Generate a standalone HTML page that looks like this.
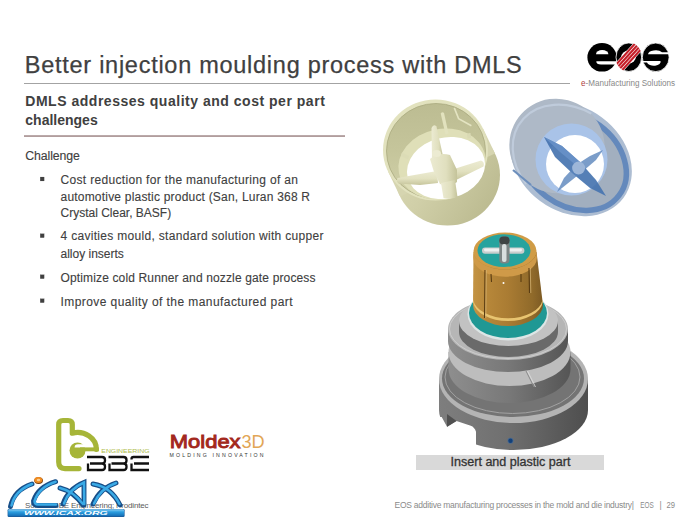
<!DOCTYPE html>
<html><head><meta charset="utf-8">
<style>
html,body{margin:0;padding:0;background:#fff;}
body{width:700px;height:525px;overflow:hidden;position:relative;}
svg{position:absolute;left:0;top:0;}
text{font-family:"Liberation Sans",sans-serif;}
</style></head><body>
<svg width="700" height="525" viewBox="0 0 700 525">

<!-- EOS LOGO -->
<g id="eos">
<ellipse cx="602" cy="57.3" rx="14.6" ry="14.3" fill="#000"/>
<path d="M596,54.3 A6.2,4.2 0 0 1 608.4,54.3 Z" fill="#fff"/>
<path d="M596.3,61.3 L618,61.3 L618,64.6 L601,64.6 A4.7,3.3 0 0 1 596.3,61.3 Z" fill="#fff"/>
<ellipse cx="628.8" cy="57.2" rx="12.8" ry="14.3" fill="#000" stroke="#fff" stroke-width="0.8"/>
<ellipse cx="628.6" cy="57" rx="7.3" ry="6.4" fill="#fff"/>
<ellipse cx="655.7" cy="57.3" rx="13.4" ry="14.3" fill="#000" stroke="#fff" stroke-width="0.8"/>
<path d="M648,54.3 A7.6,4.2 0 0 1 662,52.3 L670,52.3 L670,54.3 Z" fill="#fff"/>
<path d="M641,61 L660.5,61 A6.5,3.7 0 0 1 647,62.6 L641,62.6 Z" fill="#fff"/>
<clipPath id="oclip"><ellipse cx="628.8" cy="57.2" rx="13.2" ry="14.6"/></clipPath>
<g clip-path="url(#oclip)"><g transform="translate(628.5,57) rotate(-48)">
<rect x="-17" y="-5.6" width="34" height="11.2" fill="#fff"/>
<rect x="-17" y="-5.1" width="34" height="2.1" fill="#c41e28"/>
<rect x="-17" y="-2.4" width="34" height="2.1" fill="#c41e28"/>
<rect x="-17" y="0.3" width="34" height="2.1" fill="#c41e28"/>
<rect x="-17" y="3" width="34" height="2.1" fill="#c41e28"/>
</g></g>
</g>

<!-- YELLOW CYLINDER -->
<defs>
<linearGradient id="ybody" x1="0" y1="0" x2="1" y2="0.6">
<stop offset="0" stop-color="#dddcb8"/><stop offset="0.5" stop-color="#d0cfa8"/><stop offset="1" stop-color="#bdbc92"/>
</linearGradient>
<linearGradient id="yin" x1="0" y1="0" x2="0" y2="1">
<stop offset="0" stop-color="#bcbc92"/><stop offset="0.5" stop-color="#c5c59b"/><stop offset="1" stop-color="#d2d2aa"/>
</linearGradient>
</defs>
<g id="ycyl">
<ellipse cx="447.5" cy="175" rx="52.5" ry="50.5" fill="url(#ybody)"/>
<polygon points="388.1,171.6 400.1,196.6 495,153.4 483,128.4" fill="#d6d5b0"/>
<ellipse cx="435.5" cy="150" rx="52.5" ry="50.5" fill="#e2e2be"/>
<ellipse cx="436" cy="151" rx="49.5" ry="47.5" fill="url(#yin)"/>
<ellipse cx="436" cy="151" rx="49.5" ry="47.5" fill="none" stroke="#a9a97f" stroke-width="0.8"/>

<ellipse cx="442" cy="164" rx="44" ry="35" transform="rotate(-12 442 164)" fill="#dfdfb8"/>
<ellipse cx="446" cy="168" rx="39.5" ry="30.5" transform="rotate(-14 446 168)" fill="#fff"/>

<!-- pegs -->
<path d="M454.3,107.9 L458.6,118.6 L471.4,125.7" fill="none" stroke="#e4e4c2" stroke-width="1.6"/>
<path d="M469,113.6 Q480,122 485.7,138" fill="none" stroke="#dedeba" stroke-width="1.4"/>
<path d="M440.7,113.5 Q442.5,111.5 444,113 L448.5,133.5 L445.5,134.5 Z" fill="#e2e2be"/>
<path d="M467,133.6 L470.5,133 L471,138 L467.5,138.5 Z" fill="#dadab4"/>
<path d="M402,152.5 L409,156 L408,159.5 L401,156 Z" fill="#dcdcb6"/>
<!-- spokes -->
<defs>
<linearGradient id="spk" x1="0" y1="0" x2="1" y2="0"><stop offset="0" stop-color="#ecebd2"/><stop offset="0.6" stop-color="#e0dfbe"/><stop offset="1" stop-color="#c4c39a"/></linearGradient>
<linearGradient id="spkh" x1="0" y1="0" x2="0" y2="1"><stop offset="0" stop-color="#ecebd2"/><stop offset="0.55" stop-color="#e2e1c0"/><stop offset="1" stop-color="#c6c59c"/></linearGradient>
</defs>
<path d="M397.5,178 Q396,181.5 398.5,183.5 L420,185 L438,183 L437,171 L420,174 Z" fill="url(#spkh)"/>
<path d="M454,169 L481,160.5 Q485,162 483.5,166.5 L456,180 Z" fill="url(#spkh)"/>
<path d="M431.5,128 Q433.5,123.5 436.5,126.5 L443,156 L432,159 Z" fill="url(#spk)"/>
<path d="M430,159 Q438,152 450,155 L457,170 L457,182 Q450,188 440,184 L434,172 Z" fill="url(#spk)"/>
<path d="M441,183 L455,180 L457.5,197 Q450,200 443.5,198 Z" fill="url(#spk)"/>
<ellipse cx="436.5" cy="153.5" rx="4.5" ry="3.5" fill="#ecebd2"/>
</g>

<!-- BLUE CYLINDER -->
<g id="bcyl">
<ellipse cx="571" cy="159.2" rx="65.2" ry="52" transform="rotate(36.5 571 159.2)" fill="#adbdd2"/>
<ellipse cx="573" cy="161" rx="57.5" ry="44.5" transform="rotate(36.5 573 161)" fill="#a2afbf" stroke="#6489bc" stroke-width="5.5"/>
<ellipse cx="557" cy="146" rx="48" ry="47" transform="rotate(36.5 557 146)" fill="#aeb9c7"/>
<path d="M526.1,183.9 A62.5,49.5 36.5 0 1 591.3,113.6" fill="none" stroke="#bfcbdb" stroke-width="2.2"/>
<path d="M513,170 L531,185" stroke="#6d8fbc" stroke-width="2.2"/>
<circle cx="571.5" cy="159.5" r="36" fill="#a9c3e8"/>
<circle cx="575" cy="164" r="29" fill="#fff"/>
<path d="M544,137 L562,146 L580,162 L596,180 L606,196 L590,188 L572,173 L555,157 Z" fill="#4674b0" opacity="0.92"/>
<path d="M544,137 L562,146 L580,162 L577,166 L560,152 Z" fill="#6a94ca" opacity="0.8"/>
<path d="M603,150 L596,160 L582,172 L557,192 L564,178 L576,165 L590,156 Z" fill="#5a84bc" opacity="0.8"/>
<circle cx="578.6" cy="168" r="6.5" fill="#9db6d8"/>
</g>

<!-- MOULD INSERT -->
<defs>
<linearGradient id="gside" x1="0" y1="0" x2="1" y2="0">
<stop offset="0" stop-color="#7e7e7e"/><stop offset="0.45" stop-color="#707070"/><stop offset="1" stop-color="#4e4e4e"/>
</linearGradient>
<linearGradient id="gside2" x1="0" y1="0" x2="1" y2="0">
<stop offset="0" stop-color="#8e8e8e"/><stop offset="0.5" stop-color="#787878"/><stop offset="1" stop-color="#555555"/>
</linearGradient>
<linearGradient id="gold" x1="0" y1="0" x2="1" y2="0">
<stop offset="0" stop-color="#c49444"/><stop offset="0.18" stop-color="#b8883a"/><stop offset="0.5" stop-color="#aa7c33"/><stop offset="0.85" stop-color="#906a2a"/><stop offset="1" stop-color="#7c5a24"/>
</linearGradient>
</defs>
<g id="mould">
<!-- tier 3 -->
<path d="M439,379 L439,410 A74.5,40 0 0 0 588,410 L588,379 Z" fill="url(#gside)"/>
<path d="M436,417 L441.7,417 L446.9,426.6 L456.5,421 L470.8,425.7 Q474.5,427 476,431.7 L476,452 L436,452 Z" fill="#fff"/>
<path d="M447,414 L447,427 L456.5,421 Z" fill="#505050"/>
<ellipse cx="513.5" cy="379" rx="74.5" ry="44" fill="#b4b4b4"/>
<ellipse cx="513" cy="378.5" rx="71" ry="38.5" fill="#747474"/>
<ellipse cx="512.5" cy="377" rx="67.5" ry="36.5" fill="none" stroke="#a2a2a2" stroke-width="1"/>
<!-- tier 2 -->
<path d="M448.5,352 L448.5,369 A61,34 0 0 0 570.5,369 L570.5,352 Z" fill="url(#gside2)"/>
<ellipse cx="509.5" cy="352" rx="61" ry="34" fill="#bdbdbd"/>
<path d="M526,371 L534,387" stroke="#8a8a8a" stroke-width="1"/>
<path d="M527.5,371 L535.5,387" stroke="#e0e0e0" stroke-width="0.8"/>
<!-- tier 1 -->
<path d="M448,329 L448,341 A60,31 0 0 0 568,341 L568,329 Z" fill="url(#gside2)"/>
<ellipse cx="508" cy="329" rx="60" ry="31" fill="#b6b6b6"/>
<ellipse cx="508" cy="329" rx="58.5" ry="29.5" fill="none" stroke="#cdcdcd" stroke-width="1"/>
<path d="M459,321 L459,332 A49.5,25 0 0 0 558,332 L558,321 Z" fill="#6a6a6a"/>
<ellipse cx="508.5" cy="321" rx="49.5" ry="25" fill="#c2c2c2"/>
<!-- teal ring -->
<ellipse cx="508" cy="314" rx="40.5" ry="26.5" fill="#dde6e6"/>
<ellipse cx="508" cy="313" rx="39" ry="25" fill="#1f9894"/>
<!-- gold body -->
<path d="M473.5,252 L473,305 A35,21 0 0 0 543,305 L536.5,252 Z" fill="url(#gold)"/>
<path d="M473.2,300 A35,21 0 0 0 542.6,300 L542.8,302 A35,21 0 0 1 473.1,302 Z" fill="#e8c470"/>
<path d="M473.4,251 A31.5,18.5 0 0 0 536.6,251 L536.9,258 A31.5,18.5 0 0 1 473.3,258 Z" fill="#cf9a48"/>
<path d="M485,270 L484.5,318 M529,268 L529.5,293 M491,274 L491.5,282 M521,274 L521,282" stroke="#5a3c12" stroke-width="1.1" fill="none"/>
<path d="M486.3,270 L485.8,318 M530.3,268 L530.8,293" stroke="#d8b878" stroke-width="0.7" fill="none"/>
<circle cx="503.5" cy="283" r="1" fill="#fff"/>
<ellipse cx="505" cy="251" rx="31.5" ry="18.5" fill="#d09c46"/>
<ellipse cx="504" cy="250.6" rx="26.5" ry="16.3" fill="#26a39e"/>
<rect x="482" y="247.4" width="42.4" height="6.3" rx="3" fill="#c9cdcd"/>
<rect x="484" y="248.6" width="38" height="2.8" rx="1.4" fill="#eef0f0"/>
<rect x="499.3" y="236.6" width="10.3" height="26.8" rx="4" fill="#7c8484"/>
<rect x="499.3" y="236.6" width="10.3" height="8" rx="4" fill="#3e4444"/>
<rect x="502" y="244" width="4.5" height="18" rx="2" fill="#d8dede"/>
<circle cx="510.5" cy="440.7" r="3" fill="#4a6a90"/><circle cx="510.5" cy="440.7" r="2.2" fill="#12407a"/>
</g>

<!-- BBE LOGO -->
<g id="bbe">
<path d="M79,468.6 L65,468.6 Q58.7,468.6 58.7,462 L58.7,424.5 Q58.7,420.5 63,420.5 L68,420.5 Q72.3,420.5 72.3,424.5 L72.3,433.2 A18.8,16.5 0 0 1 96.3,449.3" fill="none" stroke="#a6b538" stroke-width="5.2" stroke-linecap="round" stroke-linejoin="round"/>
<circle cx="77.5" cy="450.5" r="8" fill="#a6b538"/>
<path d="M74.6,447.4 Q74.6,444.2 78,444.2 L92,444.2 L92,447.4 Z" fill="#fff"/>
<rect x="80" y="447.4" width="18.9" height="3.9" fill="#a6b538"/>
<text x="101.3" y="453" font-size="5.8" fill="#aebb4c" textLength="48.2" lengthAdjust="spacingAndGlyphs">ENGINEERING</text>
<g fill="none" stroke="#111" stroke-width="2.3">
<path d="M87,457 L102,457 Q105,457 105,460 L105,460.5 Q105,463.5 102,463.5 L90,463.5 M102,463.5 Q105,463.5 105,466.5 L105,467 Q105,470 102,470 L88,470 L88,463.5"/>
<path d="M108.5,457 L123.5,457 Q126.5,457 126.5,460 L126.5,460.5 Q126.5,463.5 123.5,463.5 L111.5,463.5 M123.5,463.5 Q126.5,463.5 126.5,466.5 L126.5,467 Q126.5,470 123.5,470 L109.5,470 L109.5,463.5"/>
<path d="M149,457 L133.5,457 Q131.5,457 131.5,459 L131.5,459.5 M134,463.5 L149,463.5 M131.5,463.5 L131.5,470 L149,470"/>
</g>
</g>
<!-- MOLDEX3D -->
<g id="moldex">
<text x="169.8" y="448.2" font-size="18.8" fill="#a3281c" stroke="#a3281c" stroke-width="0.9" textLength="70.8" lengthAdjust="spacingAndGlyphs">Moldex</text>
<text x="241.5" y="448.2" font-size="18.8" fill="#e2a656" textLength="23.2" lengthAdjust="spacingAndGlyphs">3D</text>
<text x="169.5" y="456.5" font-size="5.2" fill="#333" textLength="94" lengthAdjust="spacing">MOLDING  INNOVATION</text>
</g>
<!-- ICAX LOGO + SOURCE -->
<g id="icax">
<text x="25" y="507.7" font-size="8" fill="#5a5a5a" textLength="123.6" lengthAdjust="spacing">Source: BBE Engineering; Prodintec</text>
<defs>
<linearGradient id="ibar" x1="0" y1="0" x2="0" y2="1">
<stop offset="0" stop-color="#8fd0f4"/><stop offset="0.4" stop-color="#2a9ee0"/><stop offset="1" stop-color="#1670b8"/>
</linearGradient>
</defs>
<g fill="none" stroke-linecap="round">
<g stroke="#174e88" stroke-width="4.9">
<path d="M10.5,506.5 Q14,490 32,484"/>
<path d="M55.6,481.7 Q38,487 33.5,501 Q33,505.5 38,505.5 L56,505.5"/>
<path d="M63,504 Q68,489 84,482.5 L84,505"/>
<path d="M60,488 Q73,491 83,505"/>
<path d="M93,504 Q100,488 116,483"/>
<path d="M93,484 Q111,487 120,505"/>
</g>
<g stroke="#3aaae6" stroke-width="2.5">
<path d="M11.5,505.5 Q15,490.5 32,484"/>
<path d="M55.6,481.7 Q39,487 34.5,501 Q34.5,504.5 38,504.5 L56,504.5"/>
<path d="M64,503.5 Q69,489 84,482.5 L84.3,504"/>
<path d="M60,488 Q73,491 83,504"/>
<path d="M94,503.5 Q101,488 116,483"/>
<path d="M93,484 Q111,487 119.5,504"/>
</g>
</g>
<ellipse cx="38.6" cy="480.6" rx="4.4" ry="3.4" fill="#7a4010"/><ellipse cx="38.3" cy="480.1" rx="4" ry="3" fill="#f08a1e"/>
<ellipse cx="38.5" cy="480" rx="1.8" ry="1.2" fill="#fcd090"/>
<rect x="7.6" y="509" width="117" height="8" rx="1.2" fill="#1a5e9e"/><rect x="8.2" y="509.3" width="115.8" height="6.6" rx="1" fill="url(#ibar)"/>
<text x="24" y="515.3" font-size="5.8" font-weight="bold" font-style="italic" fill="#fff" textLength="83.7" lengthAdjust="spacingAndGlyphs">WWW.ICAX.ORG</text>
</g>
<!-- TEXT -->
<g id="txt">
<text x="24.8" y="72.6" font-size="23.5" fill="#404040" stroke="#404040" stroke-width="0.25" textLength="497" lengthAdjust="spacing">Better injection moulding process with DMLS</text>
<rect x="24" y="83" width="546" height="1" fill="#a3a3a3"/>
<text x="25.3" y="106.3" font-size="14" font-weight="bold" fill="#404040" textLength="299.5" lengthAdjust="spacing">DMLS addresses quality and cost per part</text>
<text x="25.3" y="125" font-size="14" font-weight="bold" fill="#404040">challenges</text>
<rect x="24" y="135.3" width="321" height="1.5" fill="#9e8686"/>
<text x="25.3" y="160" font-size="12.3" fill="#404040" stroke="#404040" stroke-width="0.12" textLength="54.5" lengthAdjust="spacing">Challenge</text>
<g fill="#404040" font-size="12" stroke="#404040" stroke-width="0.12">
<rect x="40.2" y="177" width="4" height="4"/>
<text x="60.5" y="183.7" textLength="237.5" lengthAdjust="spacing">Cost reduction for the manufacturing of an</text>
<text x="60.5" y="200.9" textLength="249.5" lengthAdjust="spacing">automotive plastic product (San, Luran 368 R</text>
<text x="60.5" y="217">Crystal Clear, BASF)</text>
<rect x="40.2" y="233.7" width="4" height="4"/>
<text x="60.5" y="240.4" textLength="263" lengthAdjust="spacing">4 cavities mould, standard solution with cupper</text>
<text x="60.5" y="257.6">alloy inserts</text>
<rect x="40.2" y="274.7" width="4" height="4"/>
<text x="60.5" y="282.3" textLength="255" lengthAdjust="spacing">Optimize cold Runner and nozzle gate process</text>
<rect x="40.2" y="298.7" width="4" height="4"/>
<text x="60.5" y="306.3" textLength="232" lengthAdjust="spacing">Improve quality of the manufactured part</text>
</g>
<rect x="416" y="455" width="188" height="15" fill="#d9d9d9"/>
<text x="450.5" y="466" font-size="12.5" fill="#333" stroke="#333" stroke-width="0.3" textLength="120" lengthAdjust="spacingAndGlyphs">Insert and plastic part</text>
<text x="394.5" y="508.3" font-size="8.5" fill="#8a8a8a" textLength="239.5" lengthAdjust="spacing">EOS additive manufacturing processes in the mold and die industry|</text>
<text x="640.3" y="508.3" font-size="8.5" fill="#8a8a8a" textLength="13.5" lengthAdjust="spacingAndGlyphs">EOS</text>
<text x="659.5" y="508.3" font-size="8.5" fill="#8a8a8a">|</text>
<text x="666.5" y="508.3" font-size="8.5" fill="#8a8a8a" textLength="8.5" lengthAdjust="spacingAndGlyphs">29</text>
<text x="581" y="86" font-size="8.4" fill="#888" textLength="94" lengthAdjust="spacingAndGlyphs"><tspan fill="#b04040">e</tspan>-Manufacturing Solutions</text>
</g>
</svg>
</body></html>
